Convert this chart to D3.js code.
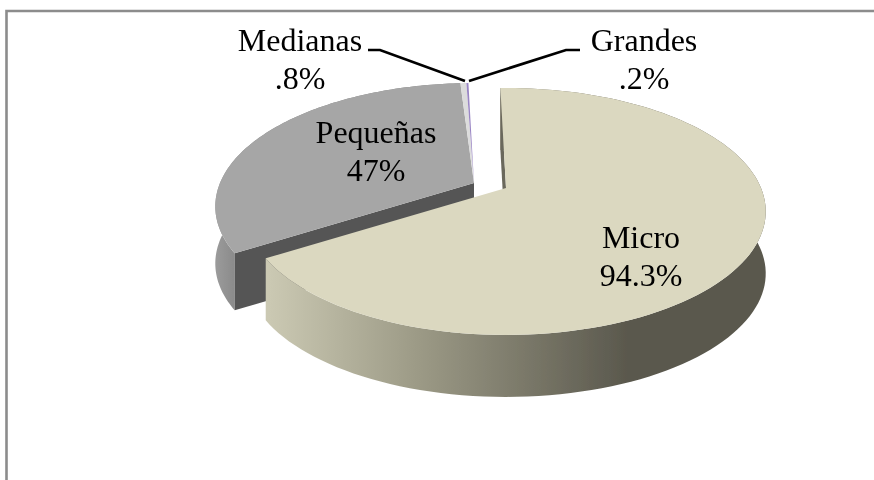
<!DOCTYPE html>
<html>
<head>
<meta charset="utf-8">
<title>Empresas por tamaño</title>
<style>
html, body { margin: 0; padding: 0; background: #fff; }
svg { display: block; }
text { font-family: "Liberation Serif", serif; font-size: 32px; fill: #000; }
</style>
</head>
<body>
<svg width="874" height="480"></svg>
<script src="https://cdnjs.cloudflare.com/ajax/libs/d3/7.8.5/d3.min.js"></script>
<script>
// slice names and the labels printed on the chart
var categories = ['Micro', 'Pequeñas', 'Medianas', 'Grandes'];
var labels = ['94.3%', '47%', '.8%', '.2%'];
// the printed numbers do not add up, so slices use the sweep
var sweep = [66.5, 32.9, 0.45, 0.15];

var topColors = ['#dbd8c0', '#a6a6a6', '#dcdcdc', '#9a86c4'];
var cutColors = ['#6a685c', '#555555', '#cfcfcf', '#b8b8c0'];

// pie centre per slice (exploded)
var centres = [[506, 188], [474, 183], [474, 183], [474, 183]];
var radiusX = [255, 254, 254, 254];
var depth = [62, 57, 0, 0];

var labelPos = [[641, 248], [376, 143], [300, 51], [644, 51]];

var svg = d3.select('svg');

var defs = svg.append('defs');
var grad = defs.append('linearGradient').attr('id', 'microSide')
  .attr('gradientUnits', 'userSpaceOnUse')
  .attr('x1', 268).attr('x2', 768).attr('y1', 0).attr('y2', 0);
grad.append('stop').attr('offset', 0).attr('stop-color', '#cbc9b3');
grad.append('stop').attr('offset', 0.3).attr('stop-color', '#9c9a86');
grad.append('stop').attr('offset', 0.72).attr('stop-color', '#5a584d');
grad.append('stop').attr('offset', 1).attr('stop-color', '#5a584d');
var grad2 = defs.append('linearGradient').attr('id', 'smallSide')
  .attr('gradientUnits', 'userSpaceOnUse')
  .attr('x1', 212).attr('x2', 240).attr('y1', 0).attr('y2', 0);
grad2.append('stop').attr('offset', 0).attr('stop-color', '#9e9e9e');
grad2.append('stop').attr('offset', 1).attr('stop-color', '#868686');

defs.append('filter').attr('id', 'soft')
  .append('feGaussianBlur').attr('stdDeviation', 0.6);
defs.append('filter').attr('id', 'softText')
  .append('feGaussianBlur').attr('stdDeviation', 0.3);

// frame, open on the right and the bottom
svg.append('path')
  .attr('d', 'M6.5,480V11H874')
  .attr('fill', 'none').attr('stroke', '#8c8c8c').attr('stroke-width', 2.6);

var pie = d3.pie().sort(null)
  .startAngle(-1.5 * Math.PI / 180)
  .endAngle(358.5 * Math.PI / 180);
var slices = pie(sweep);

// perspective: near side of the disc drawn bigger than the far side
var persp = -0.19, radiusY = 119;
function project(i, a, rho) {
  var u = rho * Math.sin(a), v = -rho * Math.cos(a), w = 1 + persp * v;
  return [centres[i][0] + radiusX[i] * u / w, centres[i][1] + radiusY * v / w];
}
function rim(d, i) {
  return d3.range(0, 121).map(function(k) {
    return project(i, d.startAngle + (d.endAngle - d.startAngle) * k / 120, 1);
  });
}
var line = d3.line();
function shift(pts, dy) {
  return pts.map(function(p) { return [p[0], p[1] + dy]; });
}

var pieG = svg.append('g').attr('filter', 'url(#soft)');

// grey first, micro sits in front
[1, 2, 3, 0].forEach(function(i) {
  var d = slices[i], g = pieG.append('g').attr('class', 'slice-' + i);
  var r = rim(d, i), c = project(i, 0, 0), dy = depth[i];
  if (dy > 0) {
    // outer wall
    g.append('path')
      .attr('d', line(r.concat(shift(r, dy).reverse())) + 'Z')
      .attr('fill', i === 0 ? 'url(#microSide)' : 'url(#smallSide)');
    // only the cut at the start of the slice faces the viewer
    g.append('path')
      .attr('d', line([c, r[0], [r[0][0], r[0][1] + dy], [c[0], c[1] + dy]]) + 'Z')
      .attr('fill', cutColors[i]);
  }
  // top
  g.append('path')
    .attr('d', line([c].concat(r)) + 'Z')
    .attr('fill', topColors[i]);
});

// leader lines
var leaderLine = d3.line();
svg.append('path').attr('d', leaderLine([[368, 50], [380, 50], [465, 81]]))
  .attr('fill', 'none').attr('stroke', '#000').attr('stroke-width', 2.7);
svg.append('path').attr('d', leaderLine([[580, 50], [566, 50], [469, 81]]))
  .attr('fill', 'none').attr('stroke', '#000').attr('stroke-width', 2.7);

// labels
var lab = svg.append('g').attr('filter', 'url(#softText)')
  .selectAll('text').data(categories).enter().append('text')
  .attr('text-anchor', 'middle')
  .attr('transform', function(d, i) { return 'translate(' + labelPos[i] + ')'; });
lab.append('tspan').attr('x', 0).attr('y', 0).text(function(d) { return d; });
lab.append('tspan').attr('x', 0).attr('y', 38).text(function(d, i) { return labels[i]; });
</script>
</body>
</html>
